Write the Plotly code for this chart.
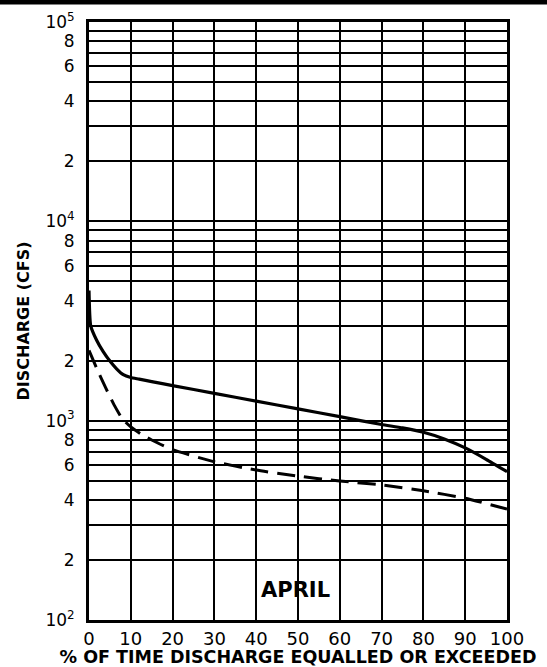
import plotly.graph_objects as go

# Flow-duration data (April)
pct_solid = [0, 0.4, 1.8, 3.4, 5, 6.6, 8.2, 10, 12, 15, 20, 30, 40, 50, 60, 70, 75, 80, 85, 90, 95, 100]
q_solid = [4500, 3000, 2540, 2220, 1990, 1820, 1700, 1645, 1615, 1570, 1500, 1370, 1253, 1146, 1047, 957, 920, 875, 810, 730, 640, 555]

pct_dash = [0, 2, 4, 6, 8, 10, 12.5, 15, 20, 30, 40, 50, 60, 70, 80, 90, 100]
q_dash = [2250, 1800, 1460, 1200, 1020, 930, 855, 800, 715, 622, 565, 527, 498, 476, 445, 408, 360]

x_ticks = [0, 10, 20, 30, 40, 50, 60, 70, 80, 90, 100]
y_tickvals = [100, 200, 400, 600, 800, 1000, 2000, 4000, 6000, 8000, 10000, 20000, 40000, 60000, 80000, 100000]
y_ticktext = ["10<sup>2</sup>", "2", "4", "6", "8", "10<sup>3</sup>", "2", "4", "6", "8",
              "10<sup>4</sup>", "2", "4", "6", "8", "10<sup>5</sup>"]
y_minorvals = [300, 500, 700, 900, 3000, 5000, 7000, 9000, 30000, 50000, 70000, 90000]

font = "DejaVu Sans"

fig = go.Figure()
fig.add_trace(go.Scatter(x=pct_solid, y=q_solid, mode="lines",
                         line=dict(color="black", width=3.2, shape="spline", smoothing=0.5), showlegend=False))
fig.add_trace(go.Scatter(x=pct_dash, y=q_dash, mode="lines",
                         line=dict(color="black", width=3, dash="18px,9px", shape="spline", smoothing=0.5), showlegend=False))

fig.add_annotation(x=49.5, y=2.15, xref="x", yref="y", text="<b>APRIL</b>", showarrow=False,
                   font=dict(family=font, size=21, color="black"))

# scan border bar at top
fig.add_shape(type="rect", xref="paper", yref="paper", x0=-0.25, x1=1.2, y0=1 + 17.5 / 598, y1=1 + 22.5 / 598,
              fillcolor="black", line=dict(width=0))

fig.update_xaxes(range=[0, 100], tickvals=x_ticks, ticktext=[str(v) for v in x_ticks],
                 showgrid=True, gridcolor="black", gridwidth=1.6,
                 showline=True, linecolor="black", linewidth=3, mirror=True,
                 ticks="", zeroline=False, automargin=False, ticklabelstandoff=0,
                 tickfont=dict(family=font, size=18, color="black"),
                 title=dict(text="<b>% OF TIME DISCHARGE EQUALLED OR EXCEEDED</b>", standoff=0,
                            font=dict(family=font, size=17.5, color="black")))
fig.update_yaxes(type="log", range=[2, 5], tickvals=y_tickvals, ticktext=y_ticktext,
                 showgrid=True, gridcolor="black", gridwidth=1.6,
                 minor=dict(tickvals=y_minorvals, showgrid=True, gridcolor="black", gridwidth=1.6, ticks=""),
                 showline=True, linecolor="black", linewidth=3, mirror=True,
                 ticks="", zeroline=False, automargin=False, ticklabelstandoff=8,
                 tickfont=dict(family=font, size=17, color="black"),
                 title=dict(text="<b>DISCHARGE (CFS)</b>", standoff=12,
                            font=dict(family=font, size=16, color="black")))

fig.update_layout(width=547, height=667, margin=dict(l=89, r=40, t=22, b=47),
                  plot_bgcolor="white", paper_bgcolor="white")

fig.write_html("out.html", config={"displayModeBar": False},
               post_script="document.body.style.margin='0px';")
